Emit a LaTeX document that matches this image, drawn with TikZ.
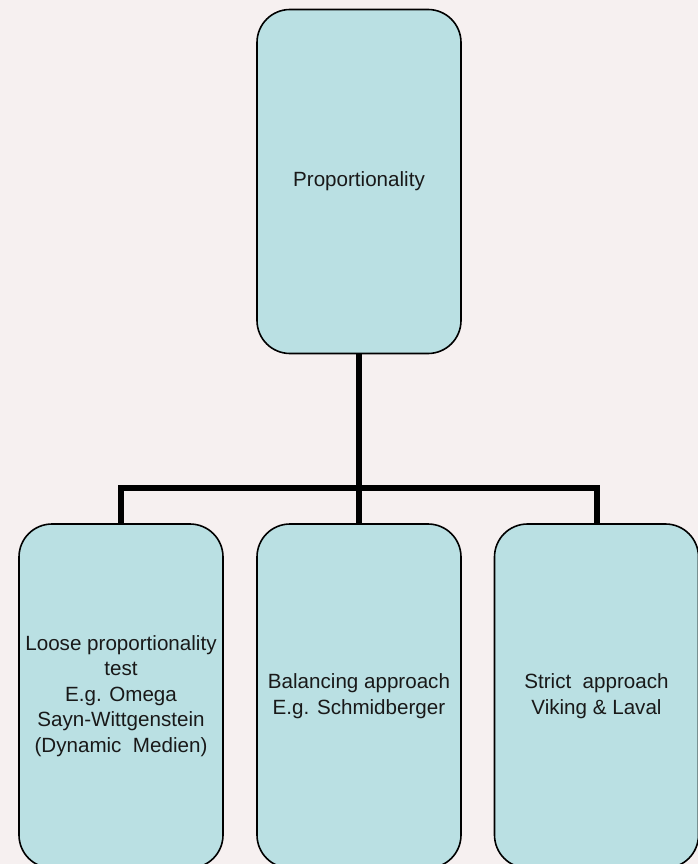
\documentclass[tikz,border=0pt]{standalone}
\usepackage{fontspec}
\setmainfont{Liberation Sans}
\definecolor{bgcol}{RGB}{246,240,240}
\definecolor{boxcol}{RGB}{186,224,227}
\begin{document}
\begin{tikzpicture}[x=1pt,y=-1pt,
  box/.style={draw=black, line width=1.6pt, fill=boxcol, rounded corners=33pt,
    minimum width=204pt, minimum height=344pt, inner sep=0pt, align=center,
    font=\fontsize{20.6}{25.6}\selectfont, text=black!90},
  conn/.style={draw=black, line width=6pt}]
\useasboundingbox (0,0) rectangle (698,864);
\fill[bgcol] (0,0) rectangle (698,864);
\clip (0,0) rectangle (698,864);
\node[box] (top) at (359,181.5) {Proportionality};
\node[box] (left) at (121,696) {Loose proportionality\\test\\E.g. Omega\\Sayn-Wittgenstein\\(Dynamic\ \ Medien)};
\node[box] (mid) at (359,696) {Balancing approach\\E.g. Schmidberger};
\node[box] (right) at (596.5,696) {Strict\ \ approach\\Viking \& Laval};
\coordinate (j) at (359,488);
\draw[conn] (top.south) -- (j);
\draw[conn] (j) -- (mid.north);
\draw[conn] (j) -| (left.north);
\draw[conn] (j) -| (right.north);
\end{tikzpicture}
\end{document}
